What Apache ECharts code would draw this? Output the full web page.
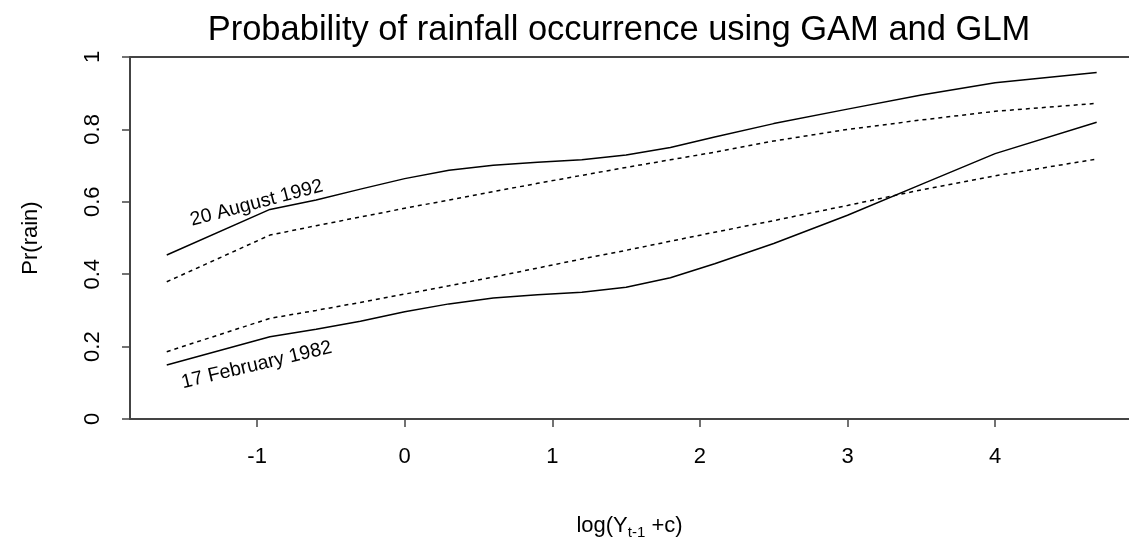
<!DOCTYPE html>
<html>
<head>
<meta charset="utf-8">
<script src="https://cdn.jsdelivr.net/npm/echarts@6/dist/echarts.min.js"></script>
<style>
  html, body { margin: 0; padding: 0; background: #fff; }
  #chart { width: 1129px; height: 546px; }
</style>
</head>
<body>
<div id="chart"></div>
<script>
// x positions, log(Y_{t-1} + c)
const xs = [-1.612, -0.913, -0.6, -0.3, 0, 0.3, 0.6, 0.9, 1.2, 1.5, 1.8, 2.1, 2.5, 3, 3.5, 4, 4.688]
// 20 August 1992
const augGam = [0.453, 0.579, 0.605, 0.635, 0.664, 0.687, 0.701, 0.709, 0.716, 0.729, 0.750, 0.779, 0.816, 0.856, 0.895, 0.929, 0.957]
const augGlm = [0.379, 0.508, 0.534, 0.558, 0.582, 0.605, 0.628, 0.651, 0.673, 0.695, 0.716, 0.737, 0.768, 0.800, 0.826, 0.850, 0.872]
// 17 February 1982
const febGam = [0.149, 0.227, 0.248, 0.270, 0.296, 0.318, 0.334, 0.343, 0.350, 0.364, 0.390, 0.429, 0.485, 0.563, 0.648, 0.733, 0.820]
const febGlm = [0.186, 0.278, 0.300, 0.322, 0.345, 0.368, 0.392, 0.417, 0.442, 0.466, 0.491, 0.516, 0.548, 0.590, 0.633, 0.672, 0.718]

const xTicks = [-1, 0, 1, 2, 3, 4]

const font = '"Liberation Sans", Arial, Helvetica, sans-serif'
const axisColor = '#444'

const pairs = ys => xs.map((x, i) => [x, ys[i]])

const chart = echarts.init(document.getElementById('chart'))

const lineSeries = (name, ys, dashed) => ({
  name,
  type: 'line',
  data: pairs(ys),
  showSymbol: false,
  symbol: 'none',
  silent: true,
  lineStyle: {
    color: '#000',
    width: 1.5,
    type: dashed ? [4, 4] : 'solid'
  }
})

const option = {
  animation: false,
  backgroundColor: '#fff',
  textStyle: { fontFamily: font, color: '#000' },
  title: {
    text: 'Probability of rainfall occurrence using GAM and GLM',
    left: 614,
    top: 8,
    textAlign: 'center',
    textStyle: { fontFamily: font, fontSize: 34.5, fontWeight: 'normal', color: '#000' }
  },
  grid: { left: 130, right: 0, top: 57, bottom: 127 },
  xAxis: [
    {
      type: 'value',
      min: -1.861,
      max: 4.907,
      name: 'log(Y{sub|t-1} +c)',
      nameLocation: 'middle',
      nameGap: 93,
      nameTextStyle: {
        fontFamily: font,
        fontSize: 22,
        color: '#000',
        rich: {
          sub: { fontFamily: font, fontSize: 15, color: '#000', padding: [13, 0, 0, 0] }
        }
      },
      axisLine: { show: true, onZero: false, lineStyle: { color: axisColor, width: 2 } },
      axisTick: { show: true, customValues: xTicks, length: 8, lineStyle: { color: axisColor, width: 1.5 } },
      axisLabel: { customValues: xTicks, fontSize: 22, color: '#000', margin: 27, fontFamily: font },
      splitLine: { show: false }
    },
    {
      type: 'value',
      position: 'top',
      min: -1.861,
      max: 4.907,
      axisLine: { show: true, onZero: false, lineStyle: { color: axisColor, width: 2 } },
      axisTick: { show: false },
      axisLabel: { show: false },
      splitLine: { show: false }
    }
  ],
  yAxis: {
    type: 'value',
    min: 0,
    max: 1,
    interval: 0.2,
    name: 'Pr(rain)',
    nameLocation: 'middle',
    nameRotate: 90,
    nameGap: 88,
    nameTextStyle: { fontFamily: font, fontSize: 22, color: '#000' },
    axisLine: { show: true, onZero: false, lineStyle: { color: axisColor, width: 2 } },
    axisTick: { show: true, length: 8, lineStyle: { color: axisColor, width: 1.5 } },
    axisLabel: {
      rotate: 90,
      fontSize: 22,
      color: '#000',
      margin: 26,
      fontFamily: font,
      formatter: v => String(Math.round(v * 10) / 10)
    },
    splitLine: { show: false }
  },
  series: [
    lineSeries('GAM 20 August 1992', augGam, false),
    lineSeries('GLM 20 August 1992', augGlm, true),
    lineSeries('GAM 17 February 1982', febGam, false),
    lineSeries('GLM 17 February 1982', febGlm, true)
  ]
}

chart.setOption(option)

// curve labels placed in data space
const labels = [
  { text: '20 August 1992', at: [-1.003, 0.596], angle: 14.7 },
  { text: '17 February 1982', at: [-1.003, 0.149], angle: 13.4 }
]

chart.setOption({
  graphic: labels.map(l => {
    const p = chart.convertToPixel({ xAxisIndex: 0, yAxisIndex: 0 }, l.at)
    return {
      type: 'text',
      x: p[0],
      y: p[1],
      rotation: l.angle * Math.PI / 180,
      silent: true,
      style: {
        text: l.text,
        fontFamily: font,
        fontSize: 19.5,
        fill: '#000',
        align: 'center',
        verticalAlign: 'middle'
      }
    }
  })
})
</script>
</body>
</html>
